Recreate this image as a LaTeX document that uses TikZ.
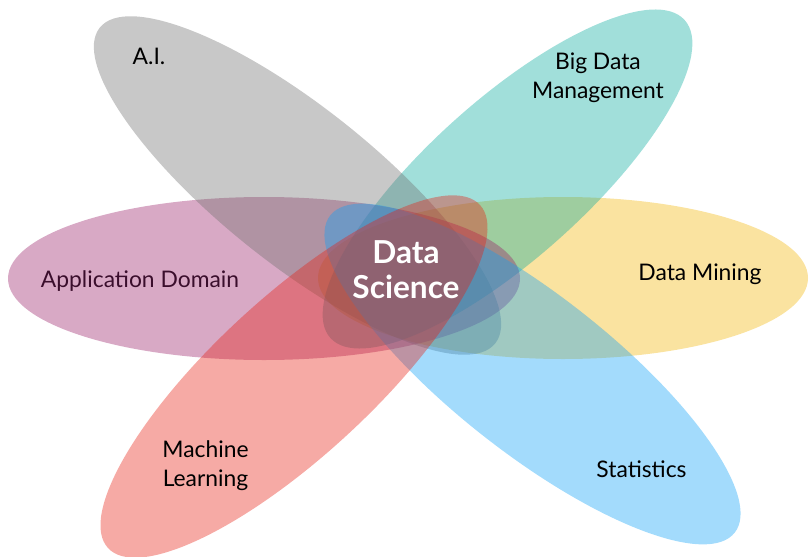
\documentclass[tikz,border=0pt]{standalone}
\usepackage{fontspec}
\setmainfont{Lato}
\usepackage{tikz}
\usetikzlibrary{calc}
\definecolor{aigray}{RGB}{110,110,110}
\definecolor{bdteal}{RGB}{8,171,158}
\definecolor{dmyellow}{RGB}{242,181,5}
\definecolor{stblue}{RGB}{13,160,247}
\definecolor{mlred}{RGB}{231,31,18}
\definecolor{adpurple}{RGB}{152,29,102}
\definecolor{adtext}{RGB}{58,14,44}
\tikzset{petal/.style={fill=#1, fill opacity=0.38}}
\tikzset{lbl/.style={font=\fontsize{19.5}{25}\selectfont, align=center, text=black}}
\begin{document}
\begin{tikzpicture}[x=0.3mm, y=0.3mm]
\useasboundingbox (0,0) rectangle (809,556);
\fill[petal=dmyellow] (563,278) ellipse [x radius=245, y radius=81];
\fill[petal=bdteal, rotate around={41.9:(507.5,377)}] (507.5,377) ellipse [x radius=238, y radius=79];
\fill[petal=adpurple] (264,277.5) ellipse [x radius=256, y radius=81.5];
\fill[petal=aigray, rotate around={-38.6:(297.5,370.5)}] (297.5,370.5) ellipse [x radius=253, y radius=78];
\fill[petal=stblue, rotate around={-38.1:(532.5,182)}] (532.5,182) ellipse [x radius=257, y radius=79];
\fill[petal=mlred, rotate around={42.7:(294,179.5)}] (294,179.5) ellipse [x radius=253, y radius=79];
\node[lbl, anchor = base] (ai) at (149,491) {A.I.};
\node[lbl] (bigdata) at (598,478) {Big Data\\Management};
\node[lbl, anchor = base, text=adtext] (appdomain) at (140,269) {Application Domain};
\node[lbl, anchor = base] (mining) at (700,276) {Data Mining};
\node[lbl] (ml) at (205.5,90) {Machine\\Learning};
\node[lbl, anchor = base] (stats) at (641.5,79) {Statistics};
\node[font=\bfseries\fontsize{27}{30}\selectfont, align=center, text=white] (ds) at (406,286) {Data\\Science};
\end{tikzpicture}
\end{document}
